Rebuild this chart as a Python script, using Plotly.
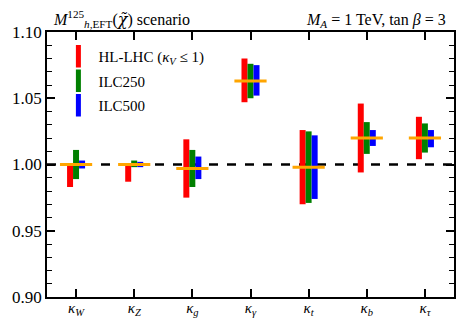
import plotly.graph_objects as go

categories = ["W", "Z", "g", "γ", "t", "b", "τ"]
tick_labels = ["<i>κ</i><sub><i>%s</i></sub>" % c for c in categories]

central = [1.000, 1.000, 0.997, 1.063, 0.998, 1.020, 1.020]

hl_lo = [0.983, 0.987, 0.975, 1.047, 0.970, 0.994, 1.004]
hl_hi = [1.000, 1.000, 1.019, 1.080, 1.026, 1.046, 1.036]

ilc250_lo = [0.989, 0.998, 0.983, 1.050, 0.971, 1.008, 1.009]
ilc250_hi = [1.011, 1.003, 1.011, 1.076, 1.025, 1.032, 1.031]

ilc500_lo = [0.997, 0.998, 0.989, 1.052, 0.974, 1.014, 1.013]
ilc500_hi = [1.003, 1.002, 1.006, 1.075, 1.022, 1.026, 1.026]

SM_REF = 1.0

series = [
    ("HL-LHC (<i>κ</i><sub><i>V</i></sub> ≤ 1)", hl_lo, hl_hi, "#ff0000", -0.155),
    ("ILC250", ilc250_lo, ilc250_hi, "#008000", -0.052),
    ("ILC500", ilc500_lo, ilc500_hi, "#0000ff", 0.052),
]

FONT = "Liberation Serif, DejaVu Serif, serif"
xs = list(range(len(categories)))

fig = go.Figure()
for i, (name, lo, hi, col, off) in enumerate(series):
    fig.add_trace(go.Bar(
        x=xs, y=[h - l for h, l in zip(hi, lo)], base=lo,
        width=0.103, offset=off, marker=dict(color=col, line=dict(width=0)),
        showlegend=False, hoverinfo="skip"))
    fig.add_trace(go.Scatter(
        x=[None], y=[None], mode="markers", name=name, legendgroup="g%d" % i,
        marker=dict(symbol="line-ns", size=16, line=dict(width=7, color=col))))

fig.add_trace(go.Scatter(
    x=xs, y=central, mode="markers", showlegend=False,
    marker=dict(symbol="line-ew", size=23, line=dict(width=3, color="orange"))))

fig.add_shape(type="line", xref="paper", x0=0, x1=1, yref="y", y0=SM_REF, y1=SM_REF,
              line=dict(color="black", width=2.5, dash="dash"), layer="below")

fig.update_layout(
    width=464, height=327,
    margin=dict(l=47, r=10, t=32, b=30),
    plot_bgcolor="white", paper_bgcolor="white",
    barmode="overlay",
    font=dict(family=FONT, size=15, color="black"),
    showlegend=True,
    legend=dict(x=0.028, y=0.97, xanchor="left", yanchor="top",
                bgcolor="rgba(0,0,0,0)", font=dict(size=15), itemwidth=30,
                tracegroupgap=2),
    annotations=[
        dict(text="<i>M</i><sup>125</sup><sub><i>h</i>,EFT</sub>(<span style=\"font-family:DejaVu Serif\"><i>χ̃</i></span>) scenario",
             xref="paper", yref="paper", x=0.01, y=1.0, xanchor="left", yanchor="bottom",
             showarrow=False, font=dict(size=16)),
        dict(text="<i>M</i><sub><i>A</i></sub> = 1 TeV, tan <i>β</i> = 3",
             xref="paper", yref="paper", x=0.985, y=1.0, xanchor="right", yanchor="bottom",
             showarrow=False, font=dict(size=16)),
    ],
)

fig.update_xaxes(
    range=[-0.5, 6.5], tickmode="array", tickvals=xs, ticktext=tick_labels,
    ticks="inside", ticklen=8, tickwidth=2, tickcolor="black", automargin=False,
    ticklabelstandoff=-4,
    showline=True, linewidth=1.5, linecolor="black", mirror="ticks",
    showgrid=False, zeroline=False, tickfont=dict(size=15))
fig.update_yaxes(
    range=[0.90, 1.10], tickvals=[0.90, 0.95, 1.00, 1.05, 1.10], tickformat=".2f",
    ticks="inside", ticklen=8, tickwidth=2, tickcolor="black", automargin=False,
    minor=dict(dtick=0.01, ticks="inside", ticklen=5, tickwidth=1.2, tickcolor="black"),
    showline=True, linewidth=1.5, linecolor="black", mirror="ticks",
    showgrid=False, zeroline=False, tickfont=dict(size=17))

fig.write_html("out.html", config={"displayModeBar": False},
               post_script="document.body.style.margin='0px';")
